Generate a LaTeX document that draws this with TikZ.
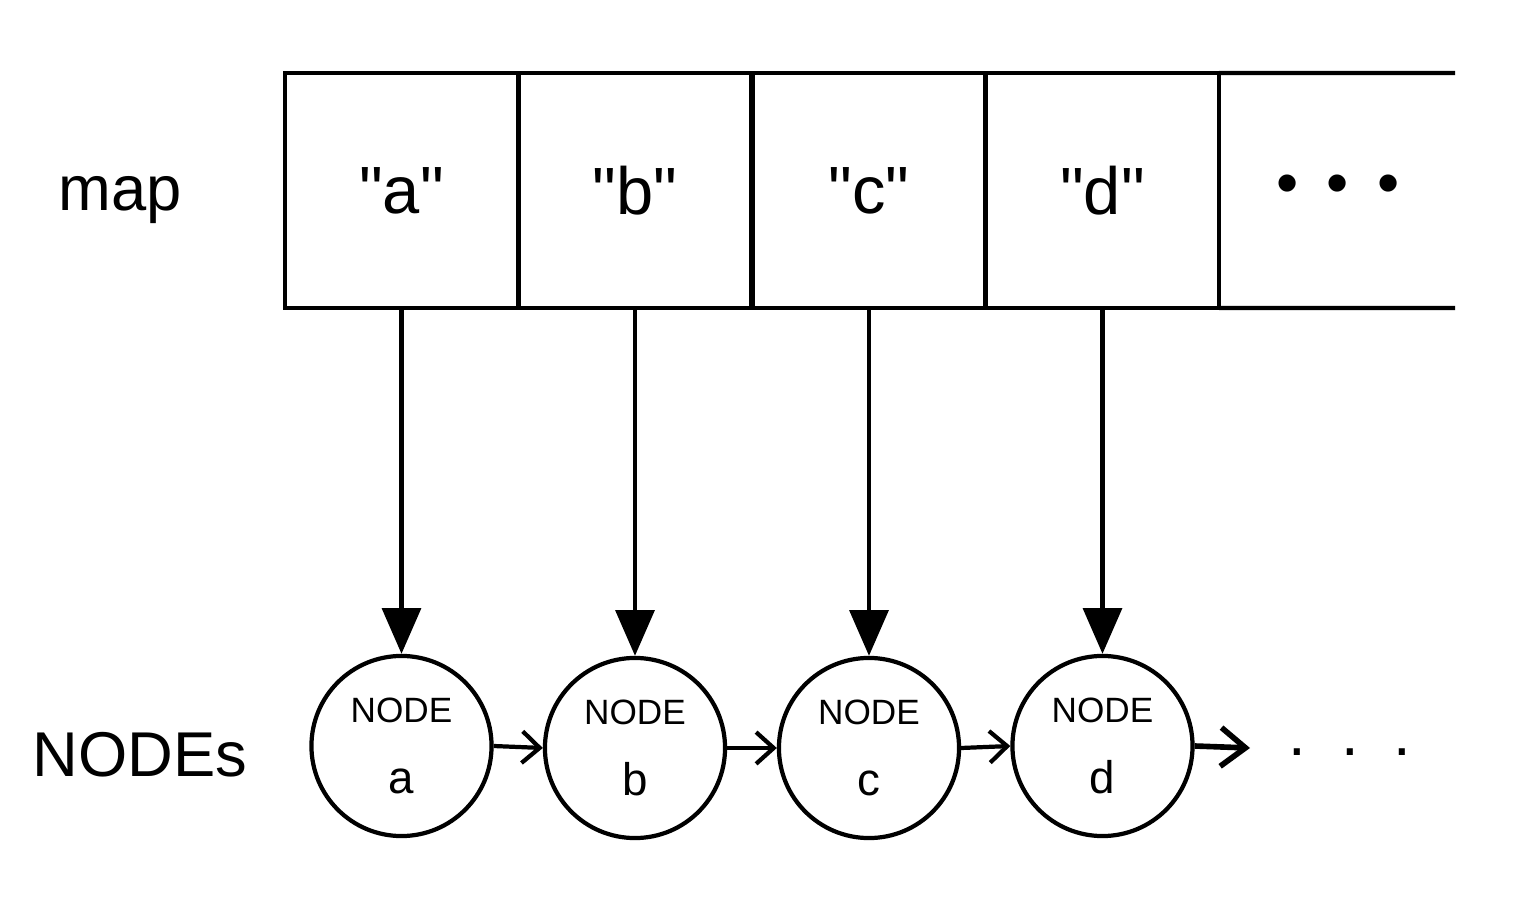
\documentclass[tikz,border=0pt]{standalone}
\usepackage{fontspec}
\setmainfont{Liberation Sans}
\usetikzlibrary{arrows.meta}
\begin{document}
\begin{tikzpicture}[x=0.01cm,y=-0.01cm,line width=1.2pt,
  cell/.style={draw,minimum width=2.33cm,minimum height=2.35cm,inner sep=0pt,outer sep=0pt,font=\fontsize{19}{22}\selectfont},
  nd/.style={circle,draw,minimum size=1.8cm,inner sep=0pt,align=center,font=\fontsize{10}{20}\selectfont},
  down/.style={-{Triangle[length=13pt,width=11pt]}},
  link/.style={-{Straight Barb[length=5pt,width=9pt]}},
  lbl/.style={font=\fontsize{18}{22}\selectfont}]
\useasboundingbox (0,0) rectangle (1535,909);
\node[cell] (c1) at (401.5,190.5) {\textquotedbl a\textquotedbl};
\node[cell] (c2) at (635,190.5) {\textquotedbl b\textquotedbl};
\node[cell] (c3) at (869,190.5) {\textquotedbl c\textquotedbl};
\node[cell] (c4) at (1102.5,190.5) {\textquotedbl d\textquotedbl};
\node[font=\fontsize{18}{20}\selectfont] (dots1) at (1338,190) {\textbullet\hspace{8pt}\textbullet\hspace{8pt}\textbullet};
\coordinate (tr) at (1455,73);
\coordinate (br) at (1455,308);
\draw (c4.north east) -- (tr);
\draw (c4.south east) -- (br);
\node[lbl] (map) at (120,200) {map};
\node[lbl] (nodes) at (140,755) {NODEs};
\node[nd] (n1) at (401.5,746) {NODE\\\fontsize{13}{15}\selectfont a};
\node[nd] (n2) at (635,748) {NODE\\\fontsize{13}{15}\selectfont b};
\node[nd] (n3) at (869,748) {NODE\\\fontsize{13}{15}\selectfont c};
\node[nd] (n4) at (1102.5,746) {NODE\\\fontsize{13}{15}\selectfont d};
\draw[down] (c1.south) -- (n1.north);
\draw[down] (c2.south) -- (n2.north);
\draw[down] (c3.south) -- (n3.north);
\draw[down] (c4.south) -- (n4.north);
\draw[link] (n1.east) -- (n2.west);
\draw[link] (n2.east) -- (n3.west);
\draw[link] (n3.east) -- (n4.west);
\coordinate (end) at (1250,748);
\draw[-{Straight Barb[length=7pt,width=11pt]},line width=1.6pt] (n4.east) -- (end);
\node[lbl] (dots2) at (1350,752) {.\hspace{10pt}.\hspace{10pt}.};
\end{tikzpicture}
\end{document}
